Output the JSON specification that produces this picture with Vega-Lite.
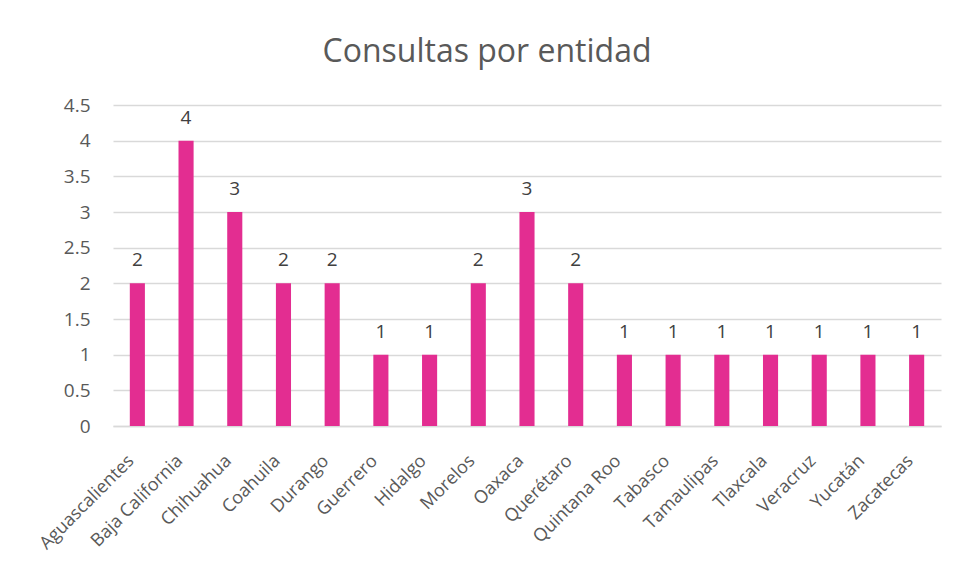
{
  "$schema": "https://vega.github.io/schema/vega-lite/v6.json",
  "autosize": "none",
  "width": 828,
  "height": 321,
  "padding": {"left": 113, "top": 105, "right": 15, "bottom": 150},
  "background": "white",
  "title": {"text": "Consultas por entidad", "fontSize": 32, "font": "Open Sans", "fontWeight": "normal", "color": "#595959", "offset": 27, "dx": -40, "anchor": "middle"},
  "data": {"values": [
    {"entidad": "Aguascalientes", "consultas": 2},
    {"entidad": "Baja California", "consultas": 4},
    {"entidad": "Chihuahua", "consultas": 3},
    {"entidad": "Coahuila", "consultas": 2},
    {"entidad": "Durango", "consultas": 2},
    {"entidad": "Guerrero", "consultas": 1},
    {"entidad": "Hidalgo", "consultas": 1},
    {"entidad": "Morelos", "consultas": 2},
    {"entidad": "Oaxaca", "consultas": 3},
    {"entidad": "Querétaro", "consultas": 2},
    {"entidad": "Quintana Roo", "consultas": 1},
    {"entidad": "Tabasco", "consultas": 1},
    {"entidad": "Tamaulipas", "consultas": 1},
    {"entidad": "Tlaxcala", "consultas": 1},
    {"entidad": "Veracruz", "consultas": 1},
    {"entidad": "Yucatán", "consultas": 1},
    {"entidad": "Zacatecas", "consultas": 1}
  ]},
  "encoding": {
    "x": {"field": "entidad", "type": "nominal", "sort": null,
      "scale": {"paddingInner": 0.69, "paddingOuter": 0.345},
      "axis": {"title": null, "labelAngle": -45, "labelAlign": "right", "labelBaseline": "middle", "labelFont": "Open Sans", "labelFontSize": 18, "labelColor": "#595959", "ticks": false, "domainColor": "#d9d9d9", "domainWidth": 1.5, "labelPadding": 32, "labelOffset": -6}},
    "y": {"field": "consultas", "type": "quantitative",
      "scale": {"domain": [0, 4.5], "nice": false},
      "axis": {"title": null, "values": [0, 0.5, 1, 1.5, 2, 2.5, 3, 3.5, 4, 4.5], "format": "~g", "labelFont": "Open Sans", "labelFontSize": 19, "labelColor": "#595959", "ticks": false, "domain": false, "gridColor": "#d9d9d9", "gridWidth": 1.5, "labelPadding": 23}}
  },
  "layer": [
    {"mark": {"type": "bar", "color": "#E32D91"}},
    {"mark": {"type": "text", "baseline": "bottom", "dy": -13, "font": "Open Sans", "fontSize": 19, "color": "#404040"},
     "encoding": {"text": {"field": "consultas", "type": "quantitative"}}}
  ],
  "config": {"view": {"stroke": null}}
}
